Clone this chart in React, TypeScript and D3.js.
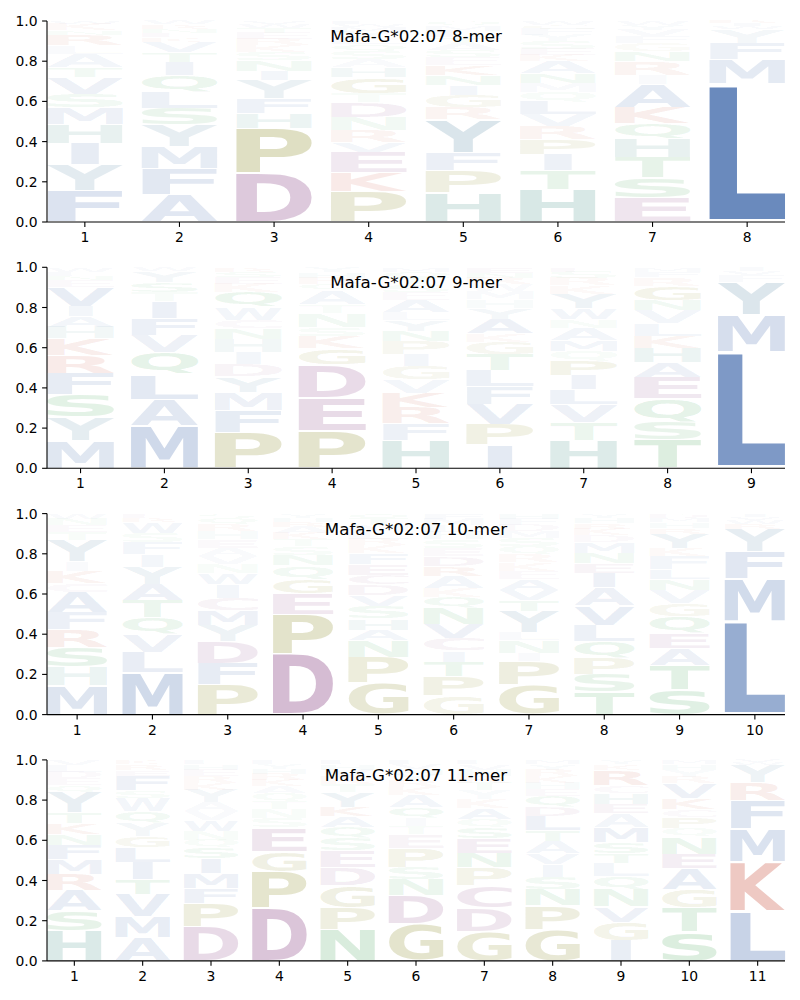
import React, { useMemo } from "react";
import * as d3 from "d3";

// ---------- DATA (letter + percent, stacked bottom -> top) ----------
const panelTitles = [
  "Mafa-G*02:07 8-mer",
  "Mafa-G*02:07 9-mer",
  "Mafa-G*02:07 10-mer",
  "Mafa-G*02:07 11-mer",
];

const yTickValues = [0, 0.2, 0.4, 0.6, 0.8, 1.0];

const mer8 = [
  "F15 Y12 I10 H9 M8 S6.5 V8 T4.5 A6.5 L4 R5 N2 K3 W1.5",
  "A12.5 F12 M10 Y10 S7.5 L7.5 Q7.5 I6 T4.5 V5 K2 E2 N2 R2 W1.5",
  "D24 P22 H7 F7.5 Y9 I4.5 N5 S4 K3.5 R3 E3 T2.5 W2 V1.5",
  "P15 K9.5 E10 V5 R6 N6.5 D7.5 T4.5 G8 H5 A4 S4 Q3.5 L3 Y3 M2.5 W1.5 F1.5",
  "H14.5 P11 F9 Y16.5 R6 G6 I5 N5 K5 E4 S3.5 A3.5 T3 L3 M2.5 Q2.5",
  "H16 T9.5 I8 P7.5 R6.5 V6 L6.5 Q4.5 M4.5 N5 A6 K3 E3 S4 Y3 F3 G2 W2",
  "E12 S10 T10 H9.5 Q7.5 K8 A11.5 I4.5 R7 N5 G4 F3.5 V3 Y2.5 W2",
  "L69 M12 F8 Y7 W1.5 I1.5 R1",
];

const mer9 = [
  "M12.7 Y10.8 S10.5 F10 R8.3 K7.5 H5.3 A5 I4.7 V9 E3 N2 L2 W2",
  "M20 A12 L11.7 Q10 V8.3 F7.8 I7.8 T4.2 S4.7 Y5 W2",
  "P16.5 F10 M8.3 Y7 D5.8 I5.3 H6.2 N5 C3.7 W5.8 Q6.7 K4 E3 S2.5 R2",
  "P17.7 E15.8 D15.5 G7.7 K6 S4.2 N6.7 T4 A6.7 Q3 R3 H2.5 Y2.5",
  "H13 F7.5 R7.5 K6.7 V6.2 G6.2 I5.5 P6 N4.7 Y5 L3.5 A5.8 E3.5 S3.5 T3 Q3 M2",
  "I11 P9.5 V9.2 F8.3 L7.5 T7.5 G5.8 K4 A6.7 Y5 H4 M4 W3 R3 N2.5 E2.5",
  "H13 T8.3 V8.3 L7 I6.7 P6.7 Q4.2 M5 A5.8 N4 W5 Y6.7 K4 R3.5 S3 E2",
  "T13 S8.3 Q10.8 E10 A6.7 H6.7 K5.3 L5.8 V6 N4.8 G6.7 R4 F2.5 M2",
  "L57 M18.3 Y15.8 F3.5 V2 I2",
];

const mer10 = [
  "M13.7 H8.7 S9.2 R8.3 F8 A9.3 C4 K6 I4.2 Y10 T4 E3 N3 W2.5",
  "M19.5 L9.2 V8.3 Q7.5 T8 A7.2 Y8.3 I5.8 F5.5 S4.2 W5 R2 E2",
  "P13.7 F10 D10 Y7.5 M6.7 C5.8 I6.3 W5 N4.2 V4 A3.5 E4 H4 R3 Q3 S2",
  "D29.5 P19 E10 G7 Q6.7 N5 S4 T3.5 K3 A3 R2.5 H2 Y2",
  "G14.5 P11.7 N7.5 A5 H5 S5.8 V5 D5 C4.2 E5 F5 K3.5 R3 L3 M3 T3 Q2.5",
  "G8.7 P9.2 T6.7 I5 C5.8 V6.7 N7.5 Q5 K4.2 A5.8 R4.5 D4.5 E4 S4 H3.5 L3 M3 F2.5",
  "G14 P11 I4 N6 L4 Y10 T5 V5 A5 E4 K4 R3.5 Q4 S4 M3 D3 F3 H2.5",
  "T10.3 S8.3 P7.5 Q7.5 L7.5 V9 A8.3 I6.7 E4.2 N5 M5 D3 K3 R2.5 H2.5 Y2",
  "S11.2 T10.8 A7.5 E6.7 Q7.5 G5.8 V5.8 N5 L4.2 F6 K3.3 Y6.7 R2.5 H2.5 M2 D2",
  "L44.7 M20 F13 Y10.8 R2.5 W2 V1.5 I1.5",
];

const mer11 = [
  "H13.6 S9.1 A9.1 R7.5 M6.6 F6.6 N5 K5 T5 Y9 Q3.3 E3 D3 L3 V2.5",
  "A10.3 M9.1 V10 T6.6 I7.5 L6.6 G5 Y5.8 Q5 W5.8 S3.3 F6.6 E2.5 R2.5 K2",
  "D15.3 P10.8 F6.6 M6.6 I6.6 S5 Q3.3 N4 W5 V4 A4 Y5.8 K3 R3 E3 H2.5 L2",
  "D26 P18 G10 E11.6 S4.5 N4.5 T4 Q4 A3.5 K3 R3 H2.5 Y2.5 L2",
  "N14.4 P10 G10 D8.3 E7.5 S5.8 Q5 A5 K4.2 Y6.6 T4 R3.5 V3 H2.5 L2",
  "G17.7 D13.3 N7.5 S5.8 P9.1 E6.6 T4 I4 Q5 A5.8 K3.5 R3 Y3 H2.5 V2.5 L2",
  "G13.6 D10.8 C10 P8.3 N6.6 E6.6 S5 Q4 A5 K4 Y4 T3.5 R3 H3 V2.5 L2",
  "G14.4 P10.8 N7.5 S5.8 I5.8 V5 A5.5 T5 L6.6 D4.2 Q5 E3 H3 K3 R3 Y2.5 M2",
  "I8.6 G8.3 V6.6 N7.5 Q5.8 L5.8 T4 S5 M6.6 A5.8 E4 H5 C3.3 R6.6 K2.5 Y2",
  "S12.8 T10.8 G8.3 A9.1 E6.6 N7.5 Q4 P5 C3.3 K5 V6.6 R3 Y3 H2.5 M2",
  "L23.5 K23.2 M15.8 F13.6 R8.3 Y8.3 W1.5 V1",
];

const panelData = [mer8, mer9, mer10, mer11];

// ---------- STYLE ----------
const groupColors: Record<string, string> = {
  L: "#4c72b0", M: "#4c72b0", F: "#4c72b0", I: "#4c72b0", V: "#4c72b0", A: "#4c72b0", W: "#4c72b0",
  H: "#3c8c82", Y: "#4f80a0",
  S: "#3ca050", T: "#3ca050", N: "#3ca050", Q: "#3ca050",
  P: "#8c8c28", G: "#8c8c28",
  D: "#91508c", E: "#91508c", C: "#91508c",
  K: "#c8503c", R: "#c8503c",
};

const FONT = "DejaVu Sans";
const W = 800;
const H = 1000;
const AX_L = 47;
const AX_R = 785;
const AX_TOP0 = 21;
const AX_H = 201;
const PANEL_STEP = 246.3;
const TICK = 4.9;
const VPAD = 0.05;
const LETTER_W = 0.8;

type Metric = { left: number; right: number; asc: number; desc: number };

function parseColumn(s: string) {
  const items = s.trim().split(/\s+/).map((t) => ({ letter: t[0], value: +t.slice(1) }));
  const total = d3.sum(items, (d) => d.value);
  return items.map((d) => ({ letter: d.letter, p: d.value / total }));
}

function useMetrics(): Record<string, Metric> {
  return useMemo(() => {
    const canvas = document.createElement("canvas");
    const ctx = canvas.getContext("2d")!;
    ctx.font = `bold 200px "${FONT}"`;
    const m: Record<string, Metric> = {};
    for (const ch of "ACDEFGHIKLMNPQRSTVWY") {
      const t = ctx.measureText(ch);
      m[ch] = {
        left: t.actualBoundingBoxLeft,
        right: t.actualBoundingBoxRight,
        asc: t.actualBoundingBoxAscent,
        desc: t.actualBoundingBoxDescent,
      };
    }
    return m;
  }, []);
}

function Panel({ idx, columns, title, metrics }: { idx: number; columns: string[]; title: string; metrics: Record<string, Metric> }) {
  const top = AX_TOP0 + idx * PANEL_STEP;
  const bottom = top + AX_H;
  const n = columns.length;
  const xs = d3.scaleLinear().domain([0.6, n + 0.4]).range([AX_L, AX_R]);
  const ys = d3.scaleLinear().domain([0, 1]).range([bottom, top]);
  const positions = d3.range(1, n + 1);
  const eM = metrics["E"];
  const eInkW = eM.left + eM.right;

  const glyphs: React.ReactNode[] = [];
  columns.forEach((col, j) => {
    const pos = j + 1;
    const items = parseColumn(col);
    let cum = 0;
    const x0 = xs(pos - LETTER_W / 2);
    const bw = xs(pos + LETTER_W / 2) - x0;
    items.forEach((it, k) => {
      const y0 = cum + (VPAD / 2) * it.p;
      const y1 = cum + it.p - (VPAD / 2) * it.p;
      cum += it.p;
      const m = metrics[it.letter];
      if (!m) return;
      const inkW = m.left + m.right;
      const inkH = m.asc + m.desc;
      const sx = Math.min(bw / inkW, bw / eInkW);
      const w = inkW * sx;
      const bx = x0 + (bw - w) / 2;
      const pyTop = ys(y1);
      const bh = ys(y0) - ys(y1);
      const sy = bh / inkH;
      const alpha = Math.max(0.03, Math.min(0.83, 1.25 * it.p));
      glyphs.push(
        <text
          key={`${j}-${k}`}
          x={m.left}
          y={m.asc}
          transform={`translate(${bx},${pyTop}) scale(${sx},${sy})`}
          fontFamily={FONT}
          fontWeight="bold"
          fontSize={200}
          fill={groupColors[it.letter]}
          fillOpacity={alpha}
        >
          {it.letter}
        </text>
      );
    });
  });

  return (
    <g>
      {glyphs}
      <text x={(AX_L + AX_R) / 2} y={top + 21} textAnchor="middle" fontFamily={FONT} fontSize={16.67} fill="#000">
        {title}
      </text>
      {/* y axis */}
      <line x1={AX_L} x2={AX_L} y1={top} y2={bottom} stroke="#000" strokeWidth={1.1} />
      {yTickValues.map((v) => (
        <g key={`y${v}`}>
          <line x1={AX_L - TICK} x2={AX_L} y1={ys(v)} y2={ys(v)} stroke="#000" strokeWidth={1.1} />
          <text x={AX_L - TICK - 4.5} y={ys(v)} dy="0.36em" textAnchor="end" fontFamily={FONT} fontSize={13.9} fill="#000">
            {d3.format(".1f")(v)}
          </text>
        </g>
      ))}
      {/* x axis */}
      <line x1={AX_L} x2={AX_R} y1={bottom} y2={bottom} stroke="#000" strokeWidth={1.1} />
      {positions.map((p) => (
        <g key={`x${p}`}>
          <line x1={xs(p)} x2={xs(p)} y1={bottom} y2={bottom + TICK} stroke="#000" strokeWidth={1.1} />
          <text x={xs(p)} y={bottom + 20} textAnchor="middle" fontFamily={FONT} fontSize={13.9} fill="#000">
            {p}
          </text>
        </g>
      ))}
    </g>
  );
}

export default function App() {
  const metrics = useMetrics();
  return (
    <svg width={W} height={H} style={{ position: "absolute", left: 0, top: 0, background: "#fff" }}>
      <rect x={0} y={0} width={W} height={H} fill="#fff" />
      {panelData.map((cols, i) => (
        <Panel key={i} idx={i} columns={cols} title={panelTitles[i]} metrics={metrics} />
      ))}
    </svg>
  );
}
